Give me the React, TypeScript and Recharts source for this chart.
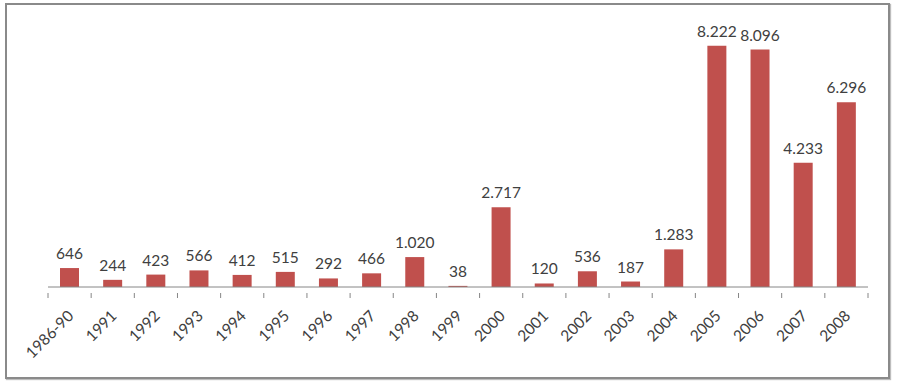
import React from 'react';
import { BarChart, Bar, XAxis, YAxis, LabelList } from 'recharts';

const years = ['1986-90', '1991', '1992', '1993', '1994', '1995', '1996', '1997', '1998', '1999', '2000', '2001', '2002', '2003', '2004', '2005', '2006', '2007', '2008'];
const values = [646, 244, 423, 566, 412, 515, 292, 466, 1020, 38, 2717, 120, 536, 187, 1283, 8222, 8096, 4233, 6296];

const data = years.map((year, i) => ({ year, value: values[i] }));

const FONT = 'Lato, "Open Sans", sans-serif';
const AXIS = '#868686';
const LEFT = 48;
const RIGHT = 30;
const WIDTH = 898;
const band = (WIDTH - LEFT - RIGHT) / years.length;

const fmt = (v: number) => v.toLocaleString('de-DE');

const YearTick = (props: any) => {
  const { x, y, payload, index } = props;
  return (
    <g>
      <line x1={x - band / 2} y1={y - 8} x2={x - band / 2} y2={y - 3} stroke={AXIS} />
      {index === years.length - 1 && (
        <line x1={x + band / 2} y1={y - 8} x2={x + band / 2} y2={y - 3} stroke={AXIS} />
      )}
      <text
        x={x + 5}
        y={y + 16}
        textAnchor="end"
        transform={`rotate(-45 ${x + 5} ${y + 16})`}
        fontSize={15.5}
        fontFamily={FONT}
        fill="#404040"
      >
        {payload.value}
      </text>
    </g>
  );
};

const App: React.FC = () => {
  return (
    <div style={{ position: 'absolute', left: 0, top: 0, width: 898, height: 390, background: '#fff' }}>
      <div
        style={{
          position: 'absolute',
          left: 5,
          top: 3,
          width: 881,
          height: 372,
          border: '2px solid #8a8a8a',
          boxShadow: '1px 1px 1px #bdbdbd',
        }}
      />
      <div style={{ position: 'absolute', left: 0, top: 0 }}>
        <BarChart width={WIDTH} height={390} data={data} margin={{ top: 23, right: RIGHT, bottom: 13, left: LEFT }}>
          <XAxis
            dataKey="year"
            stroke={AXIS}
            tickLine={false}
            tick={<YearTick />}
            interval={0}
            height={90}
            tickMargin={8}
          />
          <YAxis hide domain={[0, 9000]} width={0} />
          <Bar dataKey="value" fill="#C0504D" barSize={19} isAnimationActive={false}>
            <LabelList
              dataKey="value"
              position="top"
              offset={9}
              formatter={(v: any) => fmt(Number(v))}
              style={{ fontSize: 15.5, fontFamily: FONT, fill: '#404040' }}
            />
          </Bar>
        </BarChart>
      </div>
    </div>
  );
};

export default App;
